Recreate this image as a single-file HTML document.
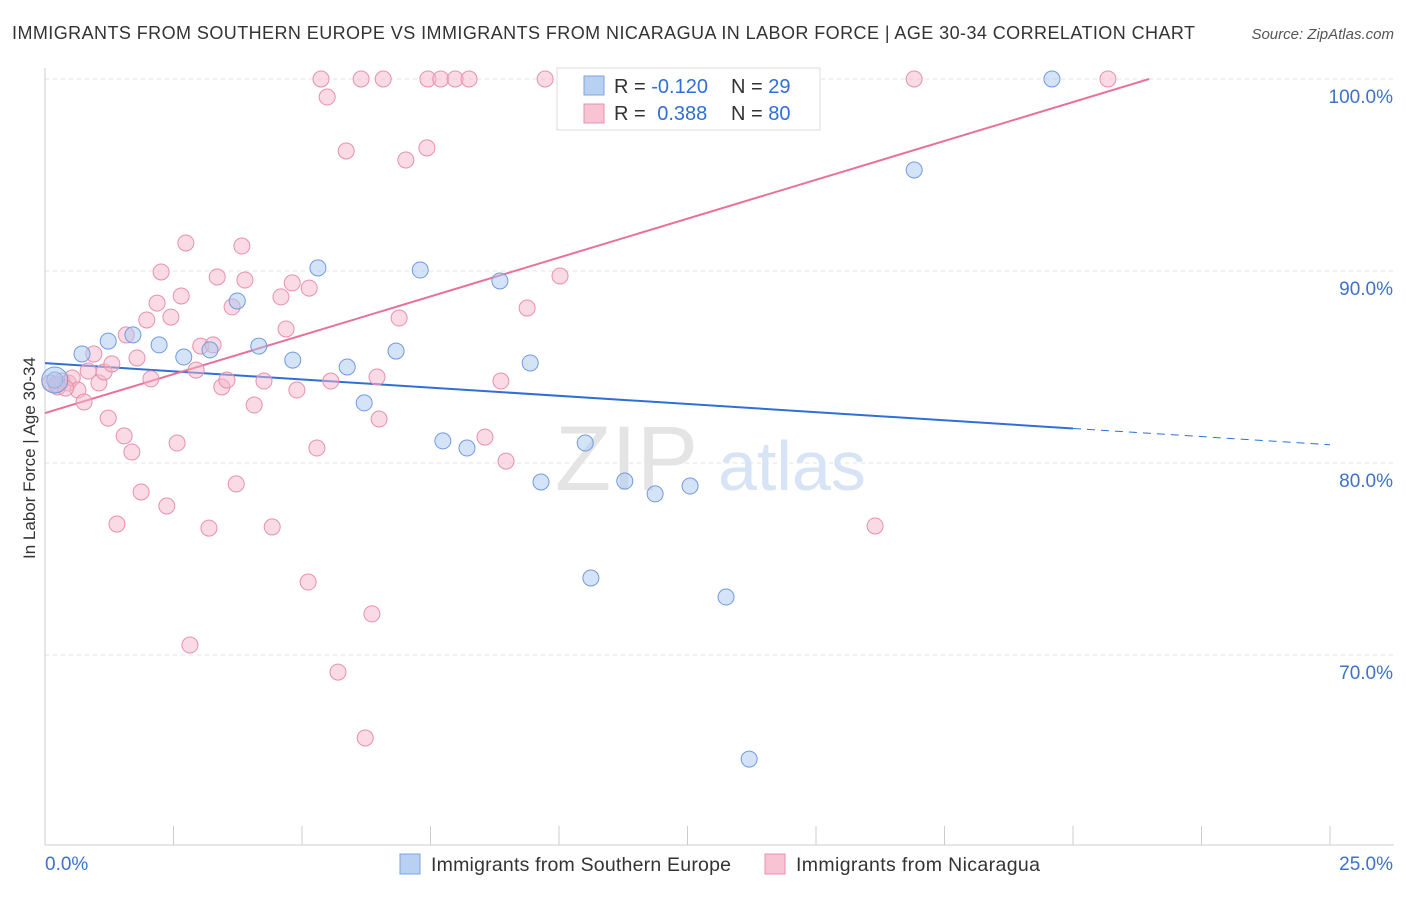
<!DOCTYPE html>
<html><head><meta charset="utf-8"><style>
body{margin:0;background:#fff;font-family:"Liberation Sans",sans-serif}
svg text{font-family:"Liberation Sans",sans-serif}
</style></head><body>
<svg id="chart" width="1406" height="892">
<text x="12" y="39" font-size="18" fill="#333" textLength="1183" lengthAdjust="spacing">IMMIGRANTS FROM SOUTHERN EUROPE VS IMMIGRANTS FROM NICARAGUA IN LABOR FORCE | AGE 30-34 CORRELATION CHART</text>
<text x="1394" y="39" font-size="15" fill="#555" font-style="italic" text-anchor="end">Source: ZipAtlas.com</text>
<text x="35" y="458" font-size="17" fill="#333" transform="rotate(-90 35 458)" text-anchor="middle">In Labor Force | Age 30-34</text>
<g id="grid"></g>
<text x="555" y="490" font-size="92" fill="#e4e4e4" font-family="Liberation Serif">ZIP</text>
<text x="718" y="490" font-size="70" fill="#d6e4f5">atlas</text>
<g id="lines"></g>
<g id="points"></g>
<g>
<rect x="557" y="68" width="263" height="62" fill="#fff" stroke="#ddd"/>
<rect x="584" y="76" width="20" height="19" fill="#b8d0f2" stroke="#7aa5e0"/>
<rect x="584" y="104" width="20" height="19" fill="#f8c3d3" stroke="#e890ad"/>
<text x="614" y="93" font-size="20" fill="#333">R = <tspan fill="#2f6fd6">-0.120</tspan></text>
<text x="731" y="93" font-size="20" fill="#333">N = <tspan fill="#2f6fd6">29</tspan></text>
<text x="614" y="120" font-size="20" fill="#333">R = <tspan fill="#2f6fd6" dx="6">0.388</tspan></text>
<text x="731" y="120" font-size="20" fill="#333">N = <tspan fill="#2f6fd6">80</tspan></text>
</g>
<g>
<rect x="400" y="854" width="20" height="20" fill="#b8d0f2" stroke="#7aa5e0"/>
<text x="431" y="871" font-size="19.5" fill="#333" textLength="300">Immigrants from Southern Europe</text>
<rect x="765" y="854" width="20" height="20" fill="#f8c3d3" stroke="#e890ad"/>
<text x="796" y="871" font-size="19.5" fill="#333" textLength="244">Immigrants from Nicaragua</text>
</g>
</svg>
<script>
const xTicks=[0,2.5,5,7.5,10,12.5,15,17.5,20,22.5,25];
const yTicks=[100,90,80,70];
const yTickLabels=["100.0%","90.0%","80.0%","70.0%"];
const xEndLabels=["0.0%","25.0%"];
const blueX=[0.19,0.72,1.23,1.71,2.22,2.70,3.21,3.74,4.16,4.82,5.31,5.88,6.21,6.83,7.30,7.74,8.21,8.85,9.44,9.65,10.51,10.62,11.28,11.87,12.55,13.25,13.70,16.91,19.59];
const blueY=[84.32,85.68,86.35,86.67,86.15,85.52,85.89,88.44,86.09,85.36,90.16,85.0,83.13,85.83,90.05,81.15,80.78,89.48,85.21,79.01,81.04,74.01,79.06,78.39,78.80,73.02,64.58,95.26,100];
const pinkX=[0.10,0.25,0.33,0.45,0.53,0.64,0.76,0.84,0.95,1.05,1.15,1.23,1.30,1.40,1.54,1.58,1.69,1.79,1.87,1.98,2.06,2.18,2.26,2.37,2.45,2.57,2.65,2.74,2.94,3.03,3.19,3.27,3.35,3.44,3.54,3.64,3.72,3.83,3.89,4.07,4.26,4.42,4.59,4.69,4.81,4.90,5.12,5.14,5.29,5.37,5.49,5.56,5.86,6.15,6.36,6.23,6.46,6.50,6.58,6.89,7.02,7.43,7.45,7.70,7.98,8.25,8.56,8.87,8.97,9.38,9.73,10.02,10.45,2.82,5.70,16.15,16.91,20.68,0.22,0.40];
const pinkY=[84.17,83.96,84.27,84.17,84.43,83.80,83.18,84.79,85.68,84.17,84.74,82.34,85.16,76.82,81.41,86.67,80.57,85.47,78.49,87.45,84.38,88.33,89.95,77.76,87.60,81.04,88.70,91.46,84.84,86.09,76.61,86.15,89.69,83.96,84.32,88.13,78.91,91.30,89.53,83.02,84.27,76.67,88.65,86.98,89.38,83.80,73.80,89.11,80.78,100,99.06,84.27,96.25,100,72.14,65.68,84.48,82.29,100,87.55,95.78,96.41,100,100,100,100,81.35,84.27,80.10,88.07,100,89.74,98.49,70.52,69.11,76.72,100,100,84.1,83.9];
const blueTrend=[85.2,-0.17]; // intercept, slope
const pinkTrend=[82.6,0.81];
const blueSolidEnd=20;
const X=v=>45+v/25*1285, Y=v=>79+(100-v)*19.2;
const NS="http://www.w3.org/2000/svg";
function mk(tag,attrs,parent){const e=document.createElementNS(NS,tag);for(const k in attrs)e.setAttribute(k,attrs[k]);parent.appendChild(e);return e;}
const grid=document.getElementById('grid'),lines=document.getElementById('lines'),pts=document.getElementById('points');
yTicks.forEach((t,i)=>{
 const l=mk('line',{x1:45,x2:1394,y1:Y(t),y2:Y(t),stroke:'#e3e3e3','stroke-dasharray':'4,4'},grid);
 
 
 const tx=mk('text',{x:1393,y:Y(t)+24,'font-size':19,fill:'#3d72c9','text-anchor':'end'},grid);
 tx.textContent=yTickLabels[i];
 
 
});
const ax=mk('line',{x1:45,x2:1394,y1:845,y2:845,stroke:'#ccc'},grid);


const ay=mk('line',{x1:45,x2:45,y1:68,y2:845,stroke:'#ccc'},grid);


xTicks.forEach(t=>{
 const l=mk('line',{x1:X(t),x2:X(t),y1:826,y2:845,stroke:'#ccc'},grid);
 
 
});
const xl0=mk('text',{x:45,y:870,'font-size':19,fill:'#3d72c9'},grid);xl0.textContent=xEndLabels[0];


const xl1=mk('text',{x:1393,y:870,'font-size':19,fill:'#3d72c9','text-anchor':'end'},grid);xl1.textContent=xEndLabels[1];


function drawPts(xs,ys,fill,stroke,name){xs.forEach((x,i)=>{const c=mk('circle',{cx:X(x),cy:Y(ys[i]),r:8,fill:fill,'fill-opacity':0.5,stroke:stroke,'stroke-width':1},pts);
 
 });}
drawPts(pinkX,pinkY,'#f6b6ca','#e890ad','nicaragua-point');
drawPts(blueX,blueY,'#a9c8f0','#6f9be0','southern-europe-point');
const big=mk('circle',{cx:X(blueX[0]),cy:Y(blueY[0]),r:13,fill:'#a9c8f0','fill-opacity':0.5,stroke:'#6f9be0'},pts);


const bt=v=>blueTrend[0]+blueTrend[1]*v, pt=v=>pinkTrend[0]+pinkTrend[1]*v;
const b1=mk('line',{x1:X(0),y1:Y(bt(0)),x2:X(blueSolidEnd),y2:Y(bt(blueSolidEnd)),stroke:'#2f6fd6','stroke-width':2},lines);


const b2=mk('line',{x1:X(blueSolidEnd),y1:Y(bt(blueSolidEnd)),x2:X(25),y2:Y(bt(25)),stroke:'#2f6fd6','stroke-width':1,'stroke-dasharray':'8,6'},lines);


const pEnd=(100-pinkTrend[0])/pinkTrend[1];
const p1=mk('line',{x1:X(0),y1:Y(pt(0)),x2:X(pEnd),y2:Y(pt(pEnd)),stroke:'#e8719a','stroke-width':2},lines);


</script>
</body></html>
